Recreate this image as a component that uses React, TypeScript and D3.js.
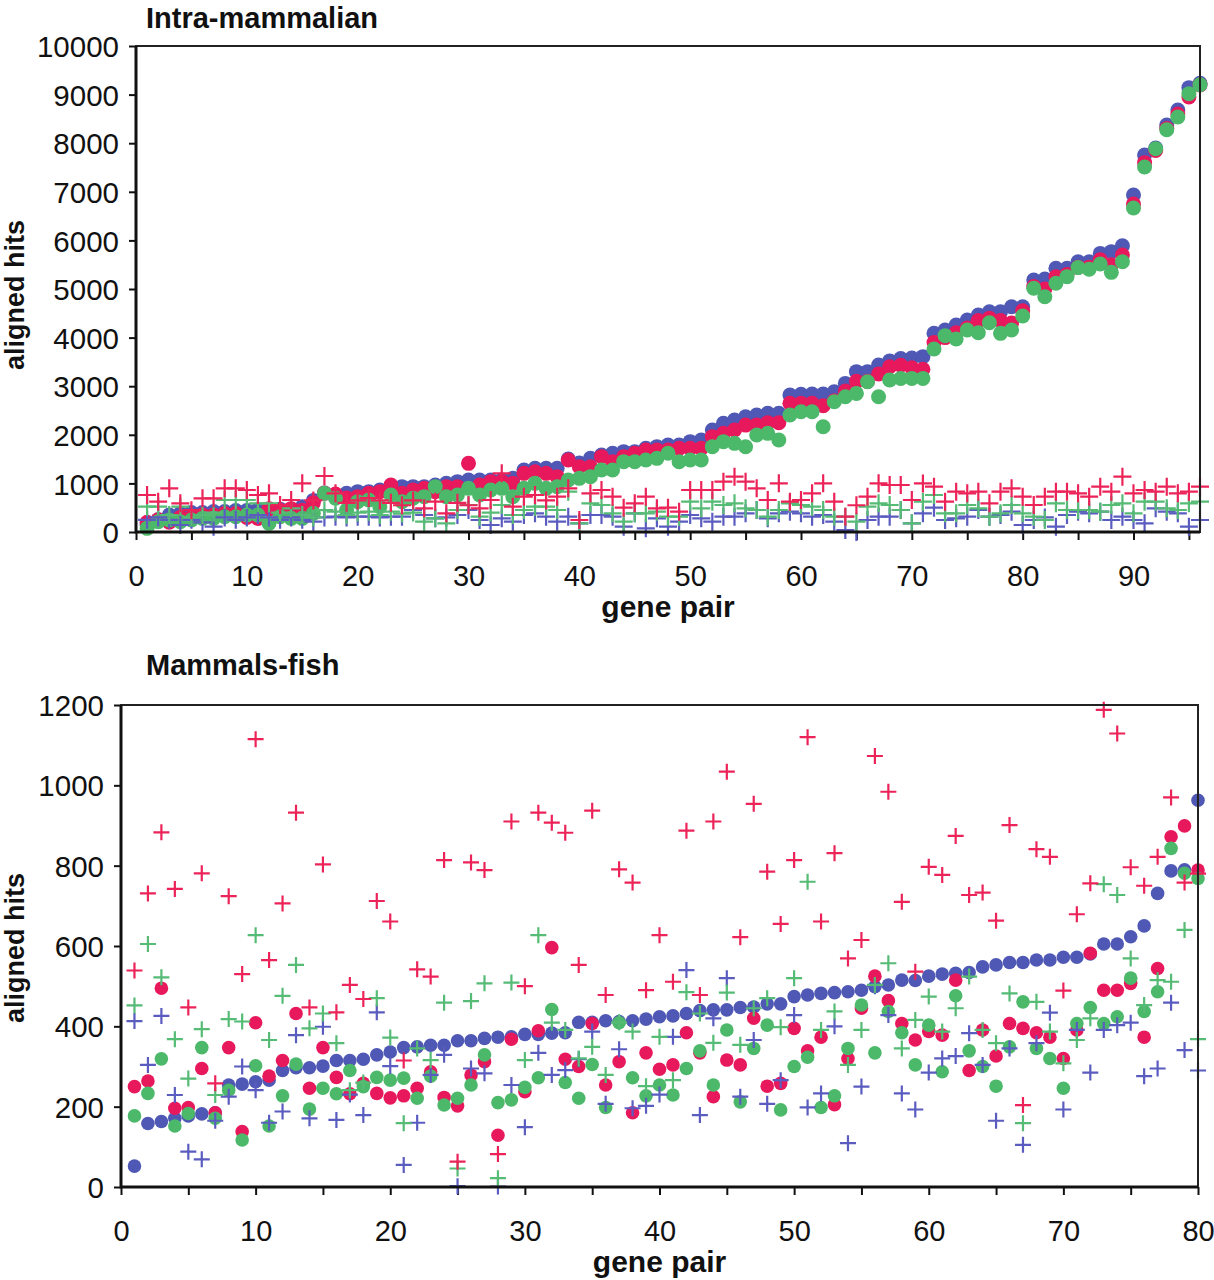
import React, { useEffect, useRef } from 'react';
import * as d3 from 'd3';

// ---- Intra-mammalian panel (gene pairs 1..96)
const topBlueDots = [150, 250, 350, 380, 400, 400, 420, 420, 440, 440, 460, 470, 470, 470, 520, 650, 800, 760, 796, 830, 830, 864, 933, 933, 933, 933, 967, 1001, 1036, 1070, 1070, 1070, 1070, 1104, 1276, 1310, 1310, 1310, 1500, 1420, 1516, 1584, 1619, 1653, 1653, 1721, 1756, 1790, 1790, 1859, 1893, 2099, 2236, 2304, 2372, 2407, 2441, 2441, 2818, 2832, 2838, 2838, 2887, 3058, 3299, 3299, 3436, 3520, 3570, 3580, 3608, 4088, 4157, 4260, 4362, 4465, 4533, 4533, 4636, 4636, 5185, 5206, 5425, 5425, 5562, 5562, 5733, 5768, 5891, 6934, 7757, 7900, 8374, 8683, 9143, 9232];
const topRedDots = [200, 250, 200, 300, 300, 350, 350, 380, 380, 300, 280, 480, 450, 480, 450, 600, 800, 780, 700, 727, 796, 830, 967, 796, 864, 898, 830, 933, 933, 1413, 967, 1036, 1036, 1001, 1207, 1241, 1207, 1139, 1481, 1344, 1344, 1550, 1447, 1550, 1620, 1687, 1687, 1687, 1721, 1721, 1721, 1962, 2030, 2100, 2200, 2200, 2250, 2250, 2650, 2650, 2650, 2600, 2700, 2900, 3100, 3100, 3250, 3400, 3430, 3380, 3350, 3900, 4000, 4100, 4200, 4350, 4400, 4350, 4300, 4550, 5050, 5000, 5250, 5300, 5450, 5450, 5600, 5500, 5700, 6750, 7600, 7850, 8300, 8600, 8950, 9200];
const topGreenDots = [75, 213, 247, 213, 247, 281, 281, 315, 315, 350, 350, 178, 315, 281, 281, 384, 796, 693, 453, 624, 658, 521, 761, 624, 693, 727, 933, 727, 761, 898, 761, 864, 898, 727, 898, 1001, 898, 933, 1070, 1104, 1139, 1276, 1276, 1447, 1447, 1481, 1516, 1619, 1447, 1481, 1481, 1756, 1859, 1824, 1755, 1995, 2030, 1893, 2407, 2475, 2475, 2167, 2681, 2784, 2852, 3092, 2784, 3127, 3161, 3160, 3160, 3765, 4040, 3970, 4157, 4100, 4307, 4088, 4157, 4445, 5014, 4842, 5117, 5254, 5440, 5405, 5514, 5343, 5562, 6667, 7510, 7887, 8278, 8538, 9019, 9204];
const topRedPlus = [761, 624, 898, 590, 450, 693, 693, 898, 898, 864, 761, 796, 556, 658, 1001, 650, 1152, 796, 600, 650, 700, 650, 600, 550, 650, 487, 624, 384, 600, 550, 487, 658, 1207, 521, 727, 761, 650, 727, 898, 247, 796, 864, 727, 500, 590, 727, 487, 500, 418, 864, 864, 864, 1036, 1139, 1036, 898, 658, 1001, 624, 658, 796, 1001, 624, 315, 550, 727, 1001, 967, 967, 658, 1000, 933, 624, 830, 796, 830, 590, 830, 898, 727, 556, 727, 830, 830, 796, 727, 933, 830, 1138, 796, 864, 830, 933, 796, 830, 933];
const topGreenPlus = [521, 521, 350, 521, 300, 350, 400, 658, 658, 658, 590, 590, 400, 487, 350, 300, 450, 418, 350, 400, 418, 350, 418, 380, 400, 213, 281, 178, 453, 556, 315, 400, 556, 350, 453, 521, 521, 453, 830, 178, 590, 556, 384, 213, 384, 384, 418, 315, 315, 624, 487, 624, 556, 590, 487, 453, 315, 453, 590, 556, 521, 453, 315, 315, 213, 521, 590, 556, 453, 178, 624, 761, 384, 384, 556, 487, 316, 384, 556, 384, 316, 247, 590, 453, 453, 453, 419, 556, 590, 384, 624, 624, 487, 453, 590, 624];
const topBluePlus = [250, 300, 250, 144, 250, 200, 110, 300, 250, 300, 350, 300, 250, 300, 250, 213, 300, 315, 300, 315, 315, 300, 315, 315, 453, 350, 281, 300, 350, 453, 247, 144, 281, 213, 350, 384, 315, 213, 315, 178, 350, 350, 315, 110, 384, 75, 281, 110, 213, 350, 281, 213, 315, 315, 384, 453, 281, 384, 418, 384, 315, 350, 213, 41, 0, 247, 315, 316, 453, 178, 384, 500, 247, 281, 316, 453, 316, 350, 419, 144, 247, 300, 110, 350, 419, 384, 419, 247, 316, 247, 178, 487, 419, 384, 110, 247];

// ---- Mammals-fish panel (gene pairs 1..80)
const botBlueDots = [52, 158, 163, 171, 177, 182, 185, 254, 256, 262, 266, 290, 297, 297, 301, 315, 315, 318, 329, 336, 347, 349, 353, 353, 364, 364, 370, 373, 374, 380, 380, 383, 384, 410, 410, 414, 412, 414, 418, 424, 426, 432, 439, 441, 441, 447, 448, 456, 456, 474, 478, 482, 484, 486, 490, 499, 503, 515, 514, 525, 530, 532, 534, 548, 553, 559, 559, 565, 565, 572, 572, 580, 605, 605, 623, 650, 731, 787, 790, 963];
const botRedDots = [250, 264, 495, 196, 198, 295, 185, 347, 138, 409, 276, 315, 432, 246, 347, 273, 232, 258, 233, 222, 227, 246, 287, 223, 202, 279, 312, 129, 368, 237, 389, 596, 318, 300, 407, 254, 312, 185, 334, 293, 304, 384, 334, 225, 316, 304, 420, 251, 258, 395, 339, 373, 205, 320, 445, 525, 464, 407, 366, 387, 378, 515, 290, 391, 326, 407, 395, 384, 373, 320, 391, 582, 490, 490, 507, 373, 544, 872, 899, 789];
const botGreenDots = [177, 233, 319, 152, 183, 347, 171, 241, 117, 302, 152, 227, 306, 194, 246, 232, 290, 250, 273, 266, 271, 221, 276, 204, 221, 254, 329, 210, 217, 248, 272, 442, 260, 221, 305, 198, 409, 272, 227, 254, 229, 295, 339, 254, 391, 212, 345, 403, 192, 300, 323, 198, 227, 345, 453, 334, 437, 384, 304, 403, 287, 476, 339, 300, 251, 349, 461, 345, 320, 246, 407, 447, 407, 424, 520, 437, 486, 843, 781, 768];
const botRedPlus = [539, 731, 883, 742, 447, 781, 258, 724, 530, 1115, 565, 706, 932, 447, 803, 435, 503, 468, 712, 661, 315, 542, 524, 814, 63, 808, 789, 82, 910, 500, 932, 907, 882, 553, 937, 478, 791, 758, 490, 627, 511, 887, 478, 910, 1034, 622, 954, 785, 655, 814, 1120, 661, 831, 569, 615, 1073, 984, 710, 536, 797, 777, 874, 727, 733, 663, 901, 204, 841, 822, 489, 679, 756, 1188, 1129, 796, 750, 822, 970, 758, 780];
const botGreenPlus = [452, 605, 522, 368, 270, 393, 229, 418, 412, 627, 366, 476, 553, 395, 432, 358, 241, 260, 470, 372, 159, 345, 316, 459, 46, 463, 507, 22, 509, 316, 627, 409, 391, 320, 349, 279, 410, 387, 251, 374, 266, 485, 432, 359, 484, 354, 445, 470, 398, 520, 760, 391, 437, 304, 391, 503, 557, 345, 416, 474, 387, 445, 524, 391, 358, 482, 159, 461, 387, 308, 366, 420, 754, 727, 569, 453, 515, 511, 640, 368];
const botBluePlus = [413, 304, 426, 229, 88, 69, 165, 225, 300, 241, 160, 188, 378, 171, 399, 167, 230, 179, 435, 301, 55, 160, 279, 329, 2, 295, 283, 1, 254, 149, 334, 279, 291, 318, 387, 207, 343, 196, 202, 230, 374, 540, 179, 420, 520, 225, 366, 207, 266, 428, 198, 233, 400, 109, 250, 500, 428, 233, 193, 285, 320, 326, 383, 304, 165, 345, 105, 358, 434, 193, 391, 285, 391, 403, 409, 276, 295, 459, 341, 290];

const topXTicks = d3.range(0, 96, 5);
const topYTicks = d3.range(0, 10001, 1000);
const botXTicks = d3.range(0, 81, 5);
const botYTicks = d3.range(0, 1201, 200);

const colors = {
  blue: "#4f58b4",
  red: "#e8185c",
  green: "#4cb86a",
  bluePlus: "#5a5cc0",
  redPlus: "#ec2358",
  greenPlus: "#55bb75",
  axis: "#111111",
};

const font = "'Liberation Sans', Arial, sans-serif";

export default function App() {
  const svgRef = useRef<SVGSVGElement>(null);
  const width = 1214;
  const height = 1280;

  useEffect(() => {
    if (!svgRef.current) return;
    const svg = d3.select(svgRef.current);
    svg.selectAll("*").remove();
    svg.append("rect").attr("width", width).attr("height", height).attr("fill", "#ffffff");

    const panel = (cfg: any) => {
      const { x, y, xTicks, yTicks, title, titleY, dots, pluses, r, arm, labelY, yLabelY } = cfg;
      const [x0, x1] = x.range();
      const [y0, y1] = y.range();
      const g = svg.append("g");

      g.append("text").attr("x", 146).attr("y", titleY).style("font-family", font).style("font-weight", "bold")
        .style("font-size", "29px").attr("fill", "#111").text(title);

      g.append("g").attr("transform", `translate(0,${y0})`)
        .call(d3.axisBottom(x).tickValues(xTicks).tickSize(8).tickPadding(25)
          .tickFormat((d: any) => (d % 10 === 0 ? String(d) : "")))
        .call(a => a.select(".domain").remove())
        .call(a => a.selectAll("line").attr("stroke", colors.axis).attr("stroke-width", 2))
        .call(a => a.selectAll("text").style("font-family", font).style("font-size", "29px").attr("fill", "#111"));

      g.append("g").attr("transform", `translate(${x0},0)`)
        .call(d3.axisLeft(y).tickValues(yTicks).tickSize(7).tickPadding(10).tickFormat(d3.format("d")))
        .call(a => a.select(".domain").remove())
        .call(a => a.selectAll("line").attr("stroke", colors.axis).attr("stroke-width", 2))
        .call(a => a.selectAll("text").attr("dy", "0.36em").style("font-family", font).style("font-size", "29.5px").attr("fill", "#111"));

      g.append("text").attr("x", (x0 + x1) / 2).attr("y", labelY).attr("text-anchor", "middle")
        .style("font-family", font).style("font-weight", "bold").style("font-size", "30px").attr("fill", "#111").text("gene pair");
      g.append("text").attr("transform", `translate(24,${yLabelY}) rotate(-90)`).attr("text-anchor", "middle")
        .style("font-family", font).style("font-weight", "bold").style("font-size", "27px").attr("fill", "#111").text("aligned hits");

      const marks = g.append("g");
      dots.forEach(([vals, col]: [number[], string]) => {
        marks.append("g").selectAll("circle").data(vals).join("circle")
          .attr("cx", (_, i) => x(i + 1)).attr("cy", d => y(d)).attr("r", r).attr("fill", col);
      });
      pluses.forEach(([vals, col]: [number[], string]) => {
        const pg = marks.append("g").attr("stroke", col).attr("stroke-width", 2.2);
        pg.selectAll("path").data(vals).join("path")
          .attr("d", (d, i) => {
            const cx = x(i + 1), cy = y(d);
            return `M${cx - arm},${cy}H${cx + arm}M${cx},${cy - arm}V${cy + arm}`;
          });
      });

      // frame: left/bottom heavier like the original
      g.append("rect").attr("x", x0).attr("y", y1).attr("width", x1 - x0).attr("height", y0 - y1)
        .attr("fill", "none").attr("stroke", "#222").attr("stroke-width", 2);
      g.append("path").attr("d", `M${x0},${y1}V${y0}H${x1}`).attr("fill", "none").attr("stroke", colors.axis).attr("stroke-width", 3);
    };

    panel({
      x: d3.scaleLinear().domain([0, 96]).range([136, 1200]),
      y: d3.scaleLinear().domain([0, 10000]).range([532, 46]),
      xTicks: topXTicks, yTicks: topYTicks,
      title: "Intra-mammalian", titleY: 28, labelY: 617, yLabelY: 295,
      r: 7.5, arm: 9,
      dots: [[topBlueDots, colors.blue], [topRedDots, colors.red], [topGreenDots, colors.green]],
      pluses: [[topBluePlus, colors.bluePlus], [topGreenPlus, colors.greenPlus], [topRedPlus, colors.redPlus]],
    });

    panel({
      x: d3.scaleLinear().domain([0, 80]).range([121, 1198]),
      y: d3.scaleLinear().domain([0, 1200]).range([1187, 705]),
      xTicks: botXTicks, yTicks: botYTicks,
      title: "Mammals-fish", titleY: 675, labelY: 1272, yLabelY: 948,
      r: 6.8, arm: 8,
      dots: [[botBlueDots, colors.blue], [botRedDots, colors.red], [botGreenDots, colors.green]],
      pluses: [[botBluePlus, colors.bluePlus], [botGreenPlus, colors.greenPlus], [botRedPlus, colors.redPlus]],
    });
  }, []);

  return (
    <svg ref={svgRef} width={width} height={height} viewBox={`0 0 ${width} ${height}`}
      style={{ position: "absolute", left: 0, top: 0, display: "block" }} />
  );
}
